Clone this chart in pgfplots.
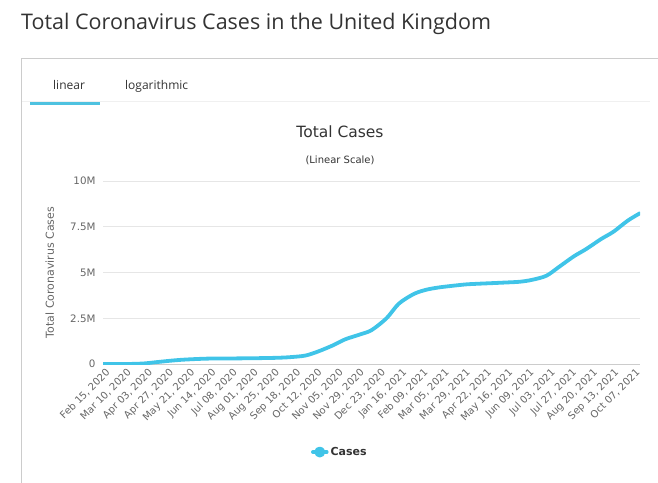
\documentclass[border=0pt]{standalone}
\usepackage{fontspec}
\setmainfont{DejaVu Sans}
\newfontfamily\pagefont{Open Sans}
\usepackage{pgfplots}
\pgfplotsset{compat=1.18}
\definecolor{caseblue}{RGB}{64,196,232}
\definecolor{tabblue}{RGB}{78,194,224}
\definecolor{txtgray}{RGB}{102,102,102}
\definecolor{dark}{RGB}{51,51,51}
\definecolor{gridgray}{RGB}{230,230,230}
\definecolor{boxgray}{RGB}{204,204,204}
\begin{document}
\begin{tikzpicture}[x=1pt,y=1pt]
\path[use as bounding box] (0,0) rectangle (658,482);
% page title and tab box
\node[anchor=base west, inner sep=0, text=dark, font=\pagefont\fontsize{21.5}{24}\selectfont]
  at (21,452) {Total Coronavirus Cases in the United Kingdom};
\draw[boxgray, line width=1pt] (21,-5) -- (21,423) -- (660,423);
\draw[gridgray!60, line width=1pt] (22,380) -- (650,380);
\draw[tabblue, line width=3pt] (30,378) -- (100,378);
\node[anchor=base west, inner sep=0, text=dark, font=\pagefont\fontsize{12}{14}\selectfont] at (53,392) {linear};
\node[anchor=base west, inner sep=0, text=dark, font=\pagefont\fontsize{12}{14}\selectfont] at (125,392) {logarithmic};
% chart titles
\node[anchor=base, inner sep=0, text=dark, font=\fontsize{15.5}{18}\selectfont] at (340,344) {Total Cases};
\node[anchor=base, inner sep=0, text=dark, font=\fontsize{10}{12}\selectfont] at (340,318) {(Linear Scale)};
\begin{axis}[
  at={(103pt,118pt)}, anchor=south west,
  scale only axis, width=537pt, height=183pt,
  xmin=0, xmax=608, ymin=0, ymax=1e7,
  axis x line*=bottom, axis y line*=left,
  y axis line style={draw=none},
  x axis line style={draw=boxgray, line width=0.8pt},
  major tick length=0pt,
  ymajorgrids, grid style={draw=gridgray, line width=0.8pt},
  ytick={0,2.5e6,5e6,7.5e6,1e7},
  yticklabels={0,2.5M,5M,7.5M,10M},
  scaled y ticks=false,
  yticklabel style={text=txtgray, font=\fontsize{10.3}{12}\selectfont, xshift=-4pt},
  xtick={0,24,...,600},
  xticklabels={{Feb 15, 2020},{Mar 10, 2020},{Apr 03, 2020},{Apr 27, 2020},{May 21, 2020},{Jun 14, 2020},{Jul 08, 2020},{Aug 01, 2020},{Aug 25, 2020},{Sep 18, 2020},{Oct 12, 2020},{Nov 05, 2020},{Nov 29, 2020},{Dec 23, 2020},{Jan 16, 2021},{Feb 09, 2021},{Mar 05, 2021},{Mar 29, 2021},{Apr 22, 2021},{May 16, 2021},{Jun 09, 2021},{Jul 03, 2021},{Jul 27, 2021},{Aug 20, 2021},{Sep 13, 2021},{Oct 07, 2021}},
  xticklabel style={text=txtgray, font=\fontsize{10}{11}\selectfont, rotate=45, anchor=north east, inner sep=1pt, yshift=-3pt},
  /pgf/number format/assume math mode=true,
  ylabel={Total Coronavirus Cases},
  ylabel style={at={(axis description cs:-0.099,0.5)}, anchor=center, text=txtgray, font=\fontsize{11}{13}\selectfont},
  legend style={at={(axis description cs:0.441,-0.481)}, anchor=center, draw=none, fill=none,
    font=\bfseries\fontsize{11}{13}\selectfont, text=dark},
  legend image code/.code={
    \draw[line width=3.5pt, caseblue] (0pt,0pt) -- (14pt,0pt);
    \fill[caseblue] (7pt,0pt) circle (3.5pt);
  },
]
\addplot[caseblue, line width=3.8pt, smooth, line join=round, line cap=round] coordinates {
  (0,9) (15,36) (29,1391) (46,29474) (60,98476) (76,177454) (90,233151)
  (107,274762) (121,296857) (137,300000) (151,306000) (168,314000)
  (182,324000) (199,342000) (213,378000) (229,460000) (243,674000)
  (260,1012000) (274,1344000) (290,1600000) (304,1850000) (321,2500000)
  (335,3300000) (352,3828000) (366,4058000) (380,4182000) (394,4264000)
  (411,4350000) (425,4386000) (441,4420000) (455,4451000) (472,4495000)
  (486,4601000) (502,4823000) (516,5295000) (533,5880000) (547,6280000)
  (564,6830000) (578,7230000) (594,7830000) (608,8240000)
};
\addlegendentry{Cases}
\end{axis}
\end{tikzpicture}
\end{document}
